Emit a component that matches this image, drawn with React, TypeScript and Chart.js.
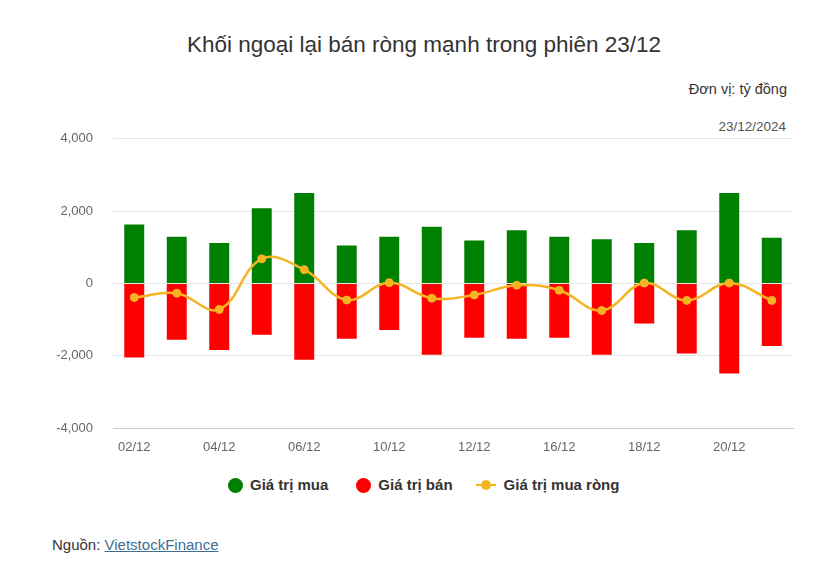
import React, { useEffect, useRef } from "react";
import { Chart, registerables } from "chart.js";

Chart.register(...registerables);

const categories = ["02/12","03/12","04/12","05/12","06/12","09/12","10/12","11/12","12/12","13/12","16/12","17/12","18/12","19/12","20/12","23/12"];
const buyValues = [1630, 1290, 1120, 2080, 2500, 1050, 1290, 1570, 1190, 1470, 1290, 1220, 1120, 1470, 2500, 1260];
const sellValues = [-2050, -1560, -1840, -1420, -2110, -1530, -1290, -1975, -1500, -1530, -1500, -1975, -1110, -1940, -2490, -1730];
const netValues = [-390, -270, -720, 680, 380, -460, 20, -410, -320, -50, -190, -750, 10, -470, 10, -470];
const yTicks = [-4000, -2000, 0, 2000, 4000];

const FONT = "'Liberation Sans', Arial, sans-serif";
const GREEN = "#008000";
const RED = "#ff0000";
const GOLD = "#f5b523";

export default function App() {
  const ref = useRef<HTMLCanvasElement | null>(null);
  useEffect(() => {
    if (!ref.current) return;
    Chart.defaults.font.family = FONT;
    const chart = new Chart(ref.current, {
      type: "bar",
      data: {
        labels: categories,
        datasets: [
          {
            type: "line",
            label: "Giá trị mua ròng",
            data: netValues,
            borderColor: GOLD,
            backgroundColor: GOLD,
            borderWidth: 2.5,
            pointRadius: 4,
            pointBorderWidth: 1,
            pointBackgroundColor: GOLD,
            pointBorderColor: GOLD,
            tension: 0.4,
            order: 0,
          } as any,
          {
            label: "Giá trị mua",
            data: buyValues,
            backgroundColor: GREEN,
            barPercentage: 0.47,
            categoryPercentage: 1,
            order: 1,
          },
          {
            label: "Giá trị bán",
            data: sellValues,
            backgroundColor: RED,
            barPercentage: 0.47,
            categoryPercentage: 1,
            order: 1,
          },
        ],
      },
      options: {
        animation: false,
        responsive: false,
        maintainAspectRatio: false,
        layout: { padding: { left: 0, right: 34, top: 9, bottom: 0 } },
        plugins: {
          legend: { display: false },
          tooltip: { enabled: false },
          title: { display: false },
        },
        scales: {
          x: {
            stacked: true,
            grid: { display: false, drawTicks: false },
            border: { display: true, color: "#cccccc", width: 1 },
            ticks: {
              autoSkip: false,
              maxRotation: 0,
              padding: 12,
              color: "#666666",
              font: { size: 13, family: FONT },
              callback: (_v: any, i: number) => (i % 2 === 0 ? categories[i] : ""),
            },
            afterFit: (s: any) => { s.height = 42; },
          },
          y: {
            stacked: false,
            min: yTicks[0],
            max: yTicks[yTicks.length - 1],
            afterBuildTicks: (s: any) => { s.ticks = yTicks.map((v) => ({ value: v })); },
            grid: { color: "#e6e6e6", drawTicks: false, lineWidth: 1 },
            border: { display: false },
            ticks: {
              padding: 20,
              color: "#666666",
              font: { size: 13, family: FONT },
              callback: (v: any) => Number(v).toLocaleString("en-US"),
            },
            afterFit: (s: any) => { s.width = 113; },
          },
        },
      },
    });
    return () => chart.destroy();
  }, []);

  const legendItem = (marker: React.ReactNode, text: string, ml: number, tl: number) => (
    <div style={{ display: "flex", alignItems: "center", marginLeft: ml }}>
      {marker}
      <span style={{ marginLeft: tl }}>{text}</span>
    </div>
  );
  const dot = (c: string) => (
    <span style={{ display: "inline-block", width: 15, height: 15, borderRadius: "50%", background: c }} />
  );
  const lineMarker = (
    <span style={{ position: "relative", display: "inline-block", width: 20, height: 12 }}>
      <span style={{ position: "absolute", left: 0, top: 5, width: 20, height: 2, background: GOLD }} />
      <span style={{ position: "absolute", left: 5, top: 1, width: 10, height: 10, borderRadius: "50%", background: GOLD }} />
    </span>
  );

  return (
    <div style={{ position: "absolute", left: 0, top: 0, width: 827, height: 580, background: "#fff", fontFamily: FONT, color: "#333" }}>
      <div style={{ position: "absolute", left: 0, width: 848, top: 31, textAlign: "center", fontSize: 22.5, color: "#333", lineHeight: "28px" }}>
        Khối ngoại lại bán ròng mạnh trong phiên 23/12
      </div>
      <div style={{ position: "absolute", right: 40, top: 80, fontSize: 14.5, color: "#333", lineHeight: "18px" }}>
        Đơn vị: tỷ đồng
      </div>
      <div style={{ position: "absolute", right: 41, top: 119, fontSize: 13.5, color: "#555", lineHeight: "16px" }}>
        23/12/2024
      </div>
      <canvas ref={ref} width={827} height={359} style={{ position: "absolute", left: 0, top: 111, width: 827, height: 359 }} />
      <div style={{ position: "absolute", left: 228, top: 476, display: "flex", fontSize: 15, fontWeight: "bold", color: "#333", lineHeight: "18px", whiteSpace: "nowrap" }}>
        {legendItem(dot(GREEN), "Giá trị mua", 0, 7)}
        {legendItem(dot(RED), "Giá trị bán", 28, 7)}
        {legendItem(lineMarker, "Giá trị mua ròng", 23, 8)}
      </div>
      <div style={{ position: "absolute", left: 52, top: 536, fontSize: 15, color: "#333", lineHeight: "18px" }}>
        Nguồn: <a href="#" style={{ color: "#3e6f93", textDecoration: "underline" }}>VietstockFinance</a>
      </div>
    </div>
  );
}
